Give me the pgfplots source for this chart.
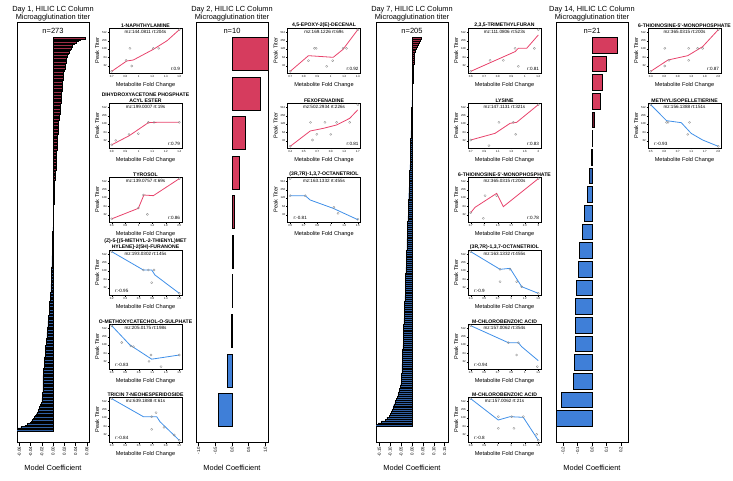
\documentclass[border=0pt]{standalone}
\usepackage{fontspec}
\setmainfont{Liberation Sans}
\usepackage{pgfplots}
\pgfplotsset{compat=1.18}
\definecolor{cred}{HTML}{D63C5E}
\definecolor{cblue}{HTML}{3F7FD8}
\definecolor{lred}{HTML}{E8436C}
\definecolor{lblue}{HTML}{3F8FE8}
\definecolor{dred}{HTML}{7A1A30}
\definecolor{dblue}{HTML}{22447A}
\definecolor{mblue}{HTML}{2F62B0}
\tikzset{
 mz/.style={font=\fontsize{4.6}{5}\selectfont, inner sep=0pt},
 rp/.style={font=\fontsize{4.6}{5}\selectfont, inner sep=0pt, anchor=base east},
 rn/.style={font=\fontsize{4.6}{5}\selectfont, inner sep=0pt, anchor=base west},
 ttl/.style={font=\fontsize{7.4}{8}\selectfont, anchor=base, inner sep=0pt},
 nn/.style={font=\fontsize{7.5}{8}\selectfont, anchor=center, inner sep=0pt},
}
\pgfplotsset{
 barpanel/.style={scale only axis, width=72pt, height=420pt, y dir=reverse, ytick=\empty,
  scaled x ticks=false,
  axis line style={line width=0.7pt}, xtick pos=left, xtick align=outside, major tick length=3.5pt,
  tick style={line width=0.5pt, black},
  xticklabel style={rotate=90, anchor=east, font=\fontsize{4.4}{5}\selectfont, inner sep=1pt},
  xlabel={Model Coefficient},
  every axis x label/.style={at={(axis description cs:0.5,0)}, anchor=center, yshift=-26pt, font=\fontsize{7.4}{8}\selectfont}},
 densebar/.style={xbar, bar width=1, bar shift=0pt, draw=black, line width=0.45pt},
 bigbar/.style={xbar, bar width=0.8333, bar shift=0pt, draw=black, line width=0.8pt},
 inset/.style={scale only axis, width=73pt, height=45pt, xmin=-0.2, xmax=5.2, ymin=4.12, ymax=9.52,
  xtick={0,...,5}, ytick={5,...,9}, yticklabels={32,64,128,256,512},
  tick align=outside, tick pos=left, major tick length=1.5pt,
  axis line style={line width=0.6pt}, tick style={line width=0.3pt, black},
  tick label style={font=\fontsize{2.8}{3}\selectfont, inner sep=0.6pt},
  xlabel={Metabolite Fold Change}, ylabel={Peak Titer},
  every axis x label/.style={at={(axis description cs:0.5,0)}, anchor=center, yshift=-12.5pt, font=\fontsize{5.6}{6}\selectfont},
  every axis y label/.style={at={(axis description cs:-0.164,0.5)}, rotate=90, anchor=center, font=\fontsize{5.6}{6}\selectfont},
  every axis title/.style={at={(axis description cs:0.5,1)}, anchor=south, yshift=0pt, font=\bfseries\fontsize{5.1}{5.4}\selectfont, align=center, inner sep=0.6pt}},
 pl/.style={color=lred, line width=0.8pt},
 nl/.style={color=lblue, line width=0.8pt},
 pt/.style={only marks, mark=o, mark size=1.1pt, color=black!45, line width=0.3pt},
}
\newcommand{\bb}[3]{\addplot[bigbar, fill=#3] coordinates {(#1,#2)};}
\begin{document}
\begin{tikzpicture}[x=1pt,y=1pt]
\path[use as bounding box] (0,0) rectangle (733,480);
% ---------- titles ----------
\node[ttl] at (53,468.7) {Day 1, HILIC LC Column};
\node[ttl] at (53,460.5) {Microagglutination titer};
\node[ttl] at (232,468.7) {Day 2, HILIC LC Column};
\node[ttl] at (232,460.5) {Microagglutination titer};
\node[ttl] at (412,468.7) {Day 7, HILIC LC Column};
\node[ttl] at (412,460.5) {Microagglutination titer};
\node[ttl] at (592,468.7) {Day 14, HILIC LC Column};
\node[ttl] at (592,460.5) {Microagglutination titer};
\node[nn] at (53,449.5) {n=273};
\node[nn] at (232,449.5) {n=10};
\node[nn] at (412,449.5) {n=205};
\node[nn] at (592,449.5) {n=21};

% ---------- Day 1 bars ----------
\begin{axis}[barpanel, at={(17pt,38pt)}, anchor=south west, xmin=-0.064, xmax=0.064, ymin=-10.33, ymax=284.33,
  xtick={-0.06,-0.04,-0.02,0,0.02,0.04,0.06}, xticklabels={-0.06,-0.04,-0.02,0.00,0.02,0.04,0.06}]
\addplot[densebar, fill=cred!75!black] table[x index=0, y expr=\coordindex+1, header=false, row sep=\\]{0.058\\0.049\\0.044\\0.041\\0.038\\0.035\\0.034\\0.032\\0.031\\0.029\\0.028\\0.027\\0.026\\0.025\\0.024\\0.024\\0.023\\0.023\\0.022\\0.022\\0.021\\0.021\\0.020\\0.020\\0.019\\0.019\\0.019\\0.018\\0.018\\0.018\\0.017\\0.017\\0.017\\0.017\\0.016\\0.016\\0.016\\0.016\\0.015\\0.015\\0.015\\0.015\\0.014\\0.014\\0.014\\0.014\\0.013\\0.013\\0.013\\0.013\\0.012\\0.012\\0.012\\0.012\\0.011\\0.011\\0.011\\0.011\\0.010\\0.010\\0.010\\0.010\\0.010\\0.009\\0.009\\0.009\\0.009\\0.009\\0.008\\0.008\\0.008\\0.008\\0.008\\0.007\\0.007\\0.007\\0.007\\0.007\\0.007\\0.006\\0.006\\0.006\\0.006\\0.006\\0.006\\0.006\\0.005\\0.005\\0.005\\0.005\\0.005\\0.005\\0.005\\0.004\\0.004\\0.004\\0.004\\0.004\\0.004\\0.004\\0.003\\0.003\\0.003\\0.003\\0.003\\0.003\\0.003\\0.003\\0.002\\0.002\\0.002\\0.002\\0.002\\0.002\\0.002\\0.002\\0.002\\0.001\\0.001\\0.001\\0.001\\0.001\\0.001\\0.001\\0.001\\0.001\\0.0005\\0.0005\\0.0005\\0.0005\\0.0002\\0.0002\\0.0001\\};
\addplot[densebar, fill=cblue!75!black] table[x index=0, y expr=\coordindex+134, header=false, row sep=\\]{-0.0001\\-0.0002\\-0.0003\\-0.0005\\-0.0005\\-0.0005\\-0.0005\\-0.001\\-0.001\\-0.001\\-0.001\\-0.001\\-0.001\\-0.001\\-0.001\\-0.001\\-0.001\\-0.001\\-0.001\\-0.001\\-0.002\\-0.002\\-0.002\\-0.002\\-0.002\\-0.002\\-0.002\\-0.002\\-0.003\\-0.003\\-0.003\\-0.003\\-0.003\\-0.003\\-0.003\\-0.003\\-0.003\\-0.003\\-0.003\\-0.003\\-0.004\\-0.004\\-0.004\\-0.004\\-0.004\\-0.004\\-0.005\\-0.005\\-0.005\\-0.005\\-0.005\\-0.005\\-0.006\\-0.006\\-0.006\\-0.006\\-0.006\\-0.007\\-0.007\\-0.007\\-0.007\\-0.007\\-0.008\\-0.008\\-0.008\\-0.008\\-0.009\\-0.009\\-0.009\\-0.009\\-0.010\\-0.010\\-0.010\\-0.010\\-0.011\\-0.011\\-0.011\\-0.011\\-0.012\\-0.012\\-0.012\\-0.012\\-0.012\\-0.013\\-0.013\\-0.013\\-0.013\\-0.014\\-0.014\\-0.014\\-0.014\\-0.015\\-0.015\\-0.015\\-0.015\\-0.016\\-0.016\\-0.016\\-0.016\\-0.017\\-0.017\\-0.017\\-0.017\\-0.017\\-0.018\\-0.018\\-0.018\\-0.018\\-0.018\\-0.018\\-0.018\\-0.018\\-0.018\\-0.018\\-0.018\\-0.018\\-0.019\\-0.019\\-0.019\\-0.019\\-0.020\\-0.020\\-0.020\\-0.021\\-0.022\\-0.023\\-0.024\\-0.025\\-0.026\\-0.027\\-0.028\\-0.030\\-0.032\\-0.033\\-0.035\\-0.037\\-0.039\\-0.041\\-0.045\\-0.050\\-0.057\\-0.062\\-0.066\\};
\end{axis}

% ---------- Day 2 bars ----------
\begin{axis}[barpanel, at={(196pt,38pt)}, anchor=south west, xmin=-1.08, xmax=1.08, ymin=0.19, ymax=10.81,
  xtick={-1,-0.5,0,0.5,1}, xticklabels={-1.0,-0.5,0.0,0.5,1.0}]
\bb{1.1}{1}{cred}
\bb{0.853}{2}{cred}
\bb{0.40}{3}{cred}
\bb{0.22}{4}{cred}
\bb{0.06}{5}{cred!85!black}
\bb{0.045}{6}{cred!75!black}
\bb{0.006}{7}{black!60}
\bb{-0.004}{8}{black!60}
\bb{-0.13}{9}{cblue}
\bb{-0.41}{10}{cblue}
\end{axis}

% ---------- Day 7 bars ----------
\begin{axis}[barpanel, at={(376pt,38pt)}, anchor=south west, xmin=-0.165, xmax=0.165, ymin=-7.61, ymax=213.61,
  xtick={-0.15,-0.1,-0.05,0,0.05,0.1,0.15}, xticklabels={-0.15,-0.10,-0.05,0.00,0.05,0.10,0.15}]
\addplot[densebar, fill=cred!75!black] table[x index=0, y expr=\coordindex+1, header=false, row sep=\\]{0.041\\0.038\\0.034\\0.028\\0.023\\0.019\\0.016\\0.014\\0.012\\0.011\\0.010\\0.009\\0.008\\0.008\\0.007\\0.007\\0.006\\0.006\\0.005\\0.005\\0.005\\0.004\\0.004\\0.004\\0.003\\0.003\\0.003\\0.002\\0.002\\0.002\\0.001\\0.001\\0.001\\};
\addplot[densebar, fill=cblue!75!black] table[x index=0, y expr=\coordindex+34, header=false, row sep=\\]{-0.0002\\-0.001\\-0.001\\-0.001\\-0.002\\-0.002\\-0.002\\-0.002\\-0.003\\-0.003\\-0.003\\-0.003\\-0.004\\-0.004\\-0.004\\-0.004\\-0.005\\-0.005\\-0.005\\-0.005\\-0.006\\-0.006\\-0.006\\-0.006\\-0.007\\-0.007\\-0.007\\-0.007\\-0.008\\-0.008\\-0.008\\-0.009\\-0.009\\-0.009\\-0.010\\-0.010\\-0.010\\-0.011\\-0.011\\-0.011\\-0.012\\-0.012\\-0.012\\-0.013\\-0.013\\-0.013\\-0.014\\-0.014\\-0.014\\-0.015\\-0.015\\-0.015\\-0.016\\-0.016\\-0.016\\-0.017\\-0.017\\-0.017\\-0.018\\-0.018\\-0.018\\-0.019\\-0.019\\-0.019\\-0.020\\-0.020\\-0.020\\-0.021\\-0.021\\-0.021\\-0.022\\-0.022\\-0.022\\-0.023\\-0.023\\-0.023\\-0.024\\-0.024\\-0.024\\-0.025\\-0.025\\-0.025\\-0.026\\-0.026\\-0.026\\-0.027\\-0.027\\-0.027\\-0.028\\-0.028\\-0.028\\-0.029\\-0.029\\-0.029\\-0.030\\-0.030\\-0.030\\-0.031\\-0.031\\-0.031\\-0.032\\-0.032\\-0.032\\-0.033\\-0.033\\-0.033\\-0.034\\-0.034\\-0.034\\-0.035\\-0.035\\-0.035\\-0.036\\-0.036\\-0.036\\-0.037\\-0.037\\-0.037\\-0.038\\-0.038\\-0.038\\-0.039\\-0.039\\-0.039\\-0.040\\-0.040\\-0.041\\-0.041\\-0.041\\-0.042\\-0.042\\-0.043\\-0.043\\-0.043\\-0.044\\-0.044\\-0.045\\-0.045\\-0.045\\-0.046\\-0.046\\-0.047\\-0.047\\-0.047\\-0.048\\-0.048\\-0.049\\-0.049\\-0.050\\-0.051\\-0.053\\-0.055\\-0.057\\-0.060\\-0.062\\-0.065\\-0.068\\-0.072\\-0.075\\-0.079\\-0.083\\-0.086\\-0.088\\-0.092\\-0.095\\-0.100\\-0.105\\-0.115\\-0.123\\-0.140\\-0.155\\-0.175\\};
\end{axis}

% ---------- Day 14 bars ----------
\begin{axis}[barpanel, at={(556pt,38pt)}, anchor=south west, xmin=-0.25, xmax=0.25, ymin=-0.25, ymax=22.25,
  xtick={-0.2,-0.1,0,0.1,0.2}, xticklabels={-0.2,-0.1,0.0,0.1,0.2}]
\bb{0.175}{1}{cred}
\bb{0.098}{2}{cred}
\bb{0.07}{3}{cred}
\bb{0.056}{4}{cred}
\bb{0.014}{5}{dred}
\bb{0.002}{6}{black!55}
\bb{-0.006}{7}{dblue}
\bb{-0.015}{8}{mblue}
\bb{-0.03}{9}{cblue}
\bb{-0.05}{10}{cblue}
\bb{-0.07}{11}{cblue}
\bb{-0.085}{12}{cblue}
\bb{-0.095}{13}{cblue}
\bb{-0.105}{14}{cblue}
\bb{-0.112}{15}{cblue}
\bb{-0.112}{16}{cblue}
\bb{-0.118}{17}{cblue}
\bb{-0.122}{18}{cblue}
\bb{-0.132}{19}{cblue}
\bb{-0.21}{20}{cblue}
\bb{-0.25}{21}{cblue}
\end{axis}

% ---------- Day 1 insets ----------
\begin{axis}[inset, at={(109pt,407pt)}, anchor=south west, xticklabels={0.7,0.8,1,1.2,1.4,1.6}, title={1-NAPHTHYLAMINE}]
\addplot[pt] coordinates {(0,4.32)(1.06,5.64)(1.35,7.08)(1.48,4.96)(3.08,7.08)(3.48,7.08)(5,9.32)};
\addplot[pl] coordinates {(0,4.32)(1.11,5.56)(1.6,5.68)(3.08,6.96)(4.1,8.0)(5,9.32)};
\node[mz] at (rel axis cs:0.5,0.904) {mz:144.0811 rt:204s};
\node[rp] at (rel axis cs:0.975,0.056) {r:0.9};
\end{axis}
\begin{axis}[inset, at={(109pt,332pt)}, anchor=south west, xticklabels={0.8,0.9,1,1.1,1.2,1.4}, title={DIHYDROXYACETONE PHOSPHATE\\ACYL ESTER}]
\addplot[pt] coordinates {(0,4.5)(0.3,5.04)(1.28,5.76)(1.97,5.84)(2.71,7.2)(3.13,7.2)(5,7.2)};
\addplot[pl] coordinates {(0,4.5)(1.3,5.6)(2.71,7.16)(3.33,7.2)(5,7.2)};
\node[mz] at (rel axis cs:0.5,0.904) {mz:199.0007 rt:19s};
\node[rp] at (rel axis cs:0.975,0.056) {r:0.79};
\end{axis}
\begin{axis}[inset, at={(109pt,258pt)}, anchor=south west, xticklabels={0.6,0.8,1,1.4,1.8,2.5}, title={TYROSOL}]
\addplot[pt] coordinates {(0,4.5)(1.97,5.8)(2.34,7.36)(2.64,5.04)(5,9.32)};
\addplot[pl] coordinates {(0,4.5)(1.97,5.76)(2.38,7.36)(3.08,7.28)(5,9.32)};
\node[mz] at (rel axis cs:0.5,0.904) {mz:139.0757 rt:69s};
\node[rp] at (rel axis cs:0.975,0.056) {r:0.86};
\end{axis}
\begin{axis}[inset, at={(109pt,185pt)}, anchor=south west, xticklabels={0.2,0.3,0.5,0.8,1.4,2.2}, title={(Z)-5-[(5-METHYL-2-THIENYL)MET\\HYLENE]-2(5H)-FURANONE}]
\addplot[pt] coordinates {(0,9.32)(2.34,7.12)(2.71,7.12)(3.13,7.12)(2.96,5.6)(5,4.32)};
\addplot[nl] coordinates {(0,9.32)(2.34,7.12)(2.96,7.12)(3.2,6.52)(5,4.32)};
\node[mz] at (rel axis cs:0.5,0.904) {mz:193.0302 rt:145s};
\node[rn] at (rel axis cs:0.08,0.056) {r:-0.95};
\end{axis}
\begin{axis}[inset, at={(109pt,111pt)}, anchor=south west, xticklabels={0.6,0.8,0.9,1.1,1.3,1.5}, title={O-METHOXYCATECHOL-O-SULPHATE}]
\addplot[pt] coordinates {(0,9.32)(0.74,7.3)(1.41,6.9)(1.6,6.8)(2.91,5.8)(2.76,5.04)(3.65,4.4)(5,5.8)};
\addplot[nl] coordinates {(0,9.32)(1.35,7.0)(2.96,5.3)(5,5.8)};
\node[mz] at (rel axis cs:0.5,0.904) {mz:205.0175 rt:198s};
\node[rn] at (rel axis cs:0.08,0.056) {r:-0.83};
\end{axis}
\begin{axis}[inset, at={(109pt,38pt)}, anchor=south west, xticklabels={0.3,0.4,0.5,0.7,0.9,1.2}, title={TRICIN 7-NEOHESPERIDOSIDE}]
\addplot[pt] coordinates {(0,9.32)(2.96,7.16)(3.28,7.64)(2.96,5.64)(3.87,5.88)(4.63,4.96)(5,4.32)};
\addplot[nl] coordinates {(0,9.32)(2.34,7.16)(3.33,7.16)(3.57,6.56)(5,4.32)};
\node[mz] at (rel axis cs:0.5,0.904) {mz:639.1888 rt:61s};
\node[rn] at (rel axis cs:0.08,0.056) {r:-0.84};
\end{axis}

% ---------- Day 2 insets ----------
\begin{axis}[inset, at={(287.5pt,407pt)}, anchor=south west, xticklabels={0.7,0.8,0.9,1,1.2,1.4}, title={4,5-EPOXY-2(E)-DECENAL}]
\addplot[pt] coordinates {(0,4.32)(1.35,5.6)(1.79,7.08)(1.92,7.08)(2.7,4.92)(3.14,5.6)(3.91,7.08)(4.16,7.08)(5,9.32)};
\addplot[pl] coordinates {(0,4.32)(1.35,6.2)(2.45,6.08)(3.18,6.0)(3.91,6.96)(5,9.32)};
\node[mz] at (rel axis cs:0.5,0.904) {mz:169.1226 rt:69s};
\node[rp] at (rel axis cs:0.975,0.056) {r:0.92};
\end{axis}
\begin{axis}[inset, at={(287.5pt,332pt)}, anchor=south west, xticklabels={0.4,0.5,0.7,0.9,1.2,1.7}, title={FEXOFENADINE}]
\addplot[pt] coordinates {(0,4.32)(1.5,7.2)(1.65,5.08)(1.97,5.76)(2.57,7.2)(3.0,5.76)(3.43,7.2)(4.4,7.2)(5,9.32)};
\addplot[pl] coordinates {(0,4.32)(1.48,6.16)(2.45,6.48)(3.43,6.88)(4.4,7.68)(5,8.7)};
\node[mz] at (rel axis cs:0.5,0.904) {mz:502.2934 rt:226s};
\node[rp] at (rel axis cs:0.975,0.056) {r:0.81};
\end{axis}
\begin{axis}[inset, at={(287.5pt,258pt)}, anchor=south west, xticklabels={0.5,0.7,0.8,1,1.2,1.5}, title={(3R,7R)-1,3,7-OCTANETRIOL}]
\addplot[pt] coordinates {(0,9.32)(0,7.28)(1.11,7.28)(3.23,5.88)(3.54,5.16)(5,4.44)};
\addplot[nl] coordinates {(0,7.28)(1.11,7.28)(1.48,6.76)(3.18,5.76)(5,4.4)};
\node[mz] at (rel axis cs:0.5,0.904) {mz:163.1332 rt:455s};
\node[rn] at (rel axis cs:0.08,0.056) {r:-0.81};
\end{axis}

% ---------- Day 7 insets ----------
\begin{axis}[inset, at={(468pt,407pt)}, anchor=south west, xticklabels={0.6,0.7,0.8,0.9,1,1.2}, title={2,3,5-TRIMETHYLFURAN}]
\addplot[pt] coordinates {(0,4.32)(1.43,5.64)(2.41,5.64)(3.28,7.08)(3.52,4.92)(4.71,7.08)(5,9.32)};
\addplot[pl] coordinates {(0,4.32)(3.28,6.68)(3.52,7.08)(4.14,7.08)(5,8.68)};
\node[mz] at (rel axis cs:0.5,0.904) {mz:111.0806 rt:523s};
\node[rp] at (rel axis cs:0.975,0.056) {r:0.81};
\end{axis}
\begin{axis}[inset, at={(468pt,332pt)}, anchor=south west, xticklabels={0.7,0.9,1.1,1.3,1.6,2}, title={LYSINE}]
\addplot[pt] coordinates {(0,5.08)(1.35,4.4)(2.09,7.2)(3.15,7.2)(3.33,5.76)(5,9.32)};
\addplot[pl] coordinates {(0,5.08)(1.8,5.88)(2.91,7.08)(3.4,7.2)(5,9.32)};
\node[mz] at (rel axis cs:0.5,0.904) {mz:147.1131 rt:321s};
\node[rp] at (rel axis cs:0.975,0.056) {r:0.83};
\end{axis}
\begin{axis}[inset, at={(468pt,258pt)}, anchor=south west, xticklabels={0.7,1,1.3,1.7,2.3,3}, title={6-THIOINOSINE-5'-MONOPHOSPHATE}]
\addplot[pt] coordinates {(0,5.24)(0.93,4.56)(1.06,7.28)(1.92,7.28)(5,9.32)};
\addplot[pl] coordinates {(0,5.24)(0.32,5.88)(1.92,7.56)(2.41,5.96)(5,9.32)};
\node[mz] at (rel axis cs:0.5,0.904) {mz:365.0315 rt:200s};
\node[rp] at (rel axis cs:0.975,0.056) {r:0.78};
\end{axis}
\begin{axis}[inset, at={(468pt,185pt)}, anchor=south west, xticklabels={0.4,0.5,0.7,1,1.2,1.6}, title={(3R,7R)-1,3,7-OCTANETRIOL}]
\addplot[pt] coordinates {(0,9.32)(2.17,7.2)(2.91,7.2)(2.17,5.72)(3.4,5.72)(3.77,5.12)(5,4.32)};
\addplot[nl] coordinates {(0,9.32)(2.17,7.2)(2.91,7.32)(3.77,5.12)(5,4.32)};
\node[mz] at (rel axis cs:0.5,0.904) {mz:163.1332 rt:455s};
\node[rn] at (rel axis cs:0.08,0.056) {r:-0.9};
\end{axis}
\begin{axis}[inset, at={(468pt,111pt)}, anchor=south west, xticklabels={0.5,0.6,0.7,0.8,1,1.2}, title={M-CHLOROBENZOIC ACID}]
\addplot[pt] coordinates {(0,9.32)(2.78,7.28)(3.52,7.28)(3.4,5.8)(4.93,4.4)};
\addplot[nl] coordinates {(0,9.32)(2.78,7.28)(3.52,7.28)(3.77,6.8)(5,5.12)};
\node[mz] at (rel axis cs:0.5,0.904) {mz:157.0062 rt:354s};
\node[rn] at (rel axis cs:0.08,0.056) {r:-0.94};
\end{axis}
\begin{axis}[inset, at={(468pt,38pt)}, anchor=south west, xticklabels={0.9,0.9,1,1,1.1,1.1}, title={M-CHLOROBENZOIC ACID}]
\addplot[pt] coordinates {(0,9.32)(2.04,7.16)(2.04,5.76)(3.03,7.16)(3.2,5.76)(3.89,7.16)(4.88,5.04)(5,4.32)};
\addplot[nl] coordinates {(0,9.32)(2.04,6.76)(2.91,7.16)(3.89,7.08)(5,4.32)};
\node[mz] at (rel axis cs:0.5,0.904) {mz:157.0062 rt:21s};
\node[rn] at (rel axis cs:0.08,0.056) {r:-0.8};
\end{axis}

% ---------- Day 14 insets ----------
\begin{axis}[inset, at={(648pt,407pt)}, anchor=south west, xticklabels={0.4,0.6,0.8,1.3,1.8,2.6}, title={6-THIOINOSINE-5'-MONOPHOSPHATE}]
\addplot[pt] coordinates {(0,4.32)(1.04,7.08)(1.04,4.96)(1.35,5.64)(2.81,7.08)(2.81,5.64)(3.47,7.08)(3.84,7.08)(5,9.32)};
\addplot[pl] coordinates {(0,4.32)(1.28,5.68)(2.74,6.2)(3.84,7.28)(5,9.32)};
\node[mz] at (rel axis cs:0.5,0.904) {mz:365.0315 rt:200s};
\node[rp] at (rel axis cs:0.975,0.056) {r:0.87};
\end{axis}
\begin{axis}[inset, at={(648pt,332pt)}, anchor=south west, xticklabels={0.5,0.6,0.7,1.1,1.7,2.6}, title={METHYLISOPELLETIERINE}]
\addplot[pt] coordinates {(0,9.32)(1.17,7.2)(1.28,7.2)(2.87,7.2)(2.74,5.76)(5,4.32)};
\addplot[nl] coordinates {(0,9.32)(1.17,7.4)(2.26,7.16)(2.99,5.88)(3.84,5.08)(5,4.32)};
\node[mz] at (rel axis cs:0.5,0.904) {mz:156.1388 rt:151s};
\node[rn] at (rel axis cs:0.08,0.056) {r:-0.93};
\end{axis}
\end{tikzpicture}
\end{document}
